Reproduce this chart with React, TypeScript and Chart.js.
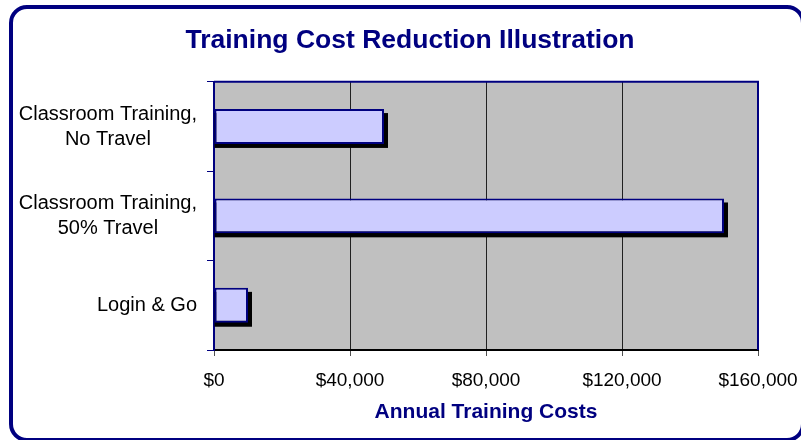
import React, { useEffect, useRef } from "react";
import { Chart, registerables } from "chart.js";

Chart.register(...registerables);

const titleText = "Training Cost Reduction Illustration";
const axisTitleText = "Annual Training Costs";
const categories: string[][] = [
  ["Classroom Training,", "No Travel"],
  ["Classroom Training,", "50% Travel"],
  ["Login & Go"],
];
const costs: number[] = [50000, 150000, 10000];
const xTickValues: number[] = [0, 40000, 80000, 120000, 160000];

const NAVY = "#000080";
const FONT = "'Liberation Sans', Arial, sans-serif";

const framePlugin = {
  id: "frame",
  beforeDraw(chart: any) {
    const { ctx, chartArea: a } = chart;
    ctx.save();
    ctx.fillStyle = "#c0c0c0";
    ctx.fillRect(a.left, a.top, a.right - a.left, a.bottom - a.top);
    ctx.restore();
  },
  beforeDatasetsDraw(chart: any) {
    const { ctx } = chart;
    const meta = chart.getDatasetMeta(0);
    ctx.save();
    ctx.fillStyle = "#000000";
    meta.data.forEach((el: any) => {
      const p = el.getProps(["x", "y", "base", "height"], true);
      const left = Math.min(p.base, p.x);
      const right = Math.max(p.base, p.x);
      ctx.fillRect(left, p.y - p.height / 2 + 4, right - left + 4, p.height);
    });
    ctx.restore();
  },
  afterDraw(chart: any) {
    const { ctx, chartArea: a } = chart;
    ctx.save();
    ctx.strokeStyle = NAVY;
    ctx.lineWidth = 2;
    ctx.beginPath();
    ctx.moveTo(a.left, a.top);
    ctx.lineTo(a.right, a.top);
    ctx.lineTo(a.right, a.bottom);
    ctx.stroke();
    // category labels: lines centred on each other, block right-aligned
    const yScale = chart.scales.y;
    ctx.font = `20px ${FONT}`;
    ctx.fillStyle = "#000000";
    ctx.textAlign = "center";
    ctx.textBaseline = "middle";
    const rightEdge = yScale.right - 17;
    const lh = 25;
    categories.forEach((lines, i) => {
      const cy = yScale.getPixelForTick(i);
      const w = Math.max(...lines.map((l) => ctx.measureText(l).width));
      const cx = rightEdge - w / 2;
      lines.forEach((l, j) => {
        ctx.fillText(l, cx, cy + (j - (lines.length - 1) / 2) * lh);
      });
    });
    ctx.restore();
  },
};

export default function App() {
  const ref = useRef<HTMLCanvasElement>(null);
  useEffect(() => {
    document.body.style.margin = "0";
    const chart = new Chart(ref.current!, {
      type: "bar",
      data: {
        labels: categories,
        datasets: [
          {
            data: costs,
            backgroundColor: "#ccccff",
            borderColor: NAVY,
            borderWidth: 2,
            borderSkipped: false,
            barPercentage: 0.39,
            categoryPercentage: 1,
          },
        ],
      },
      options: {
        indexAxis: "y",
        animation: false,
        responsive: false,
        devicePixelRatio: 1,
        layout: { padding: { left: 19, right: 0, top: 10, bottom: 0 } },
        plugins: {
          legend: { display: false },
          tooltip: { enabled: false },
          title: {
            display: true,
            text: titleText,
            color: NAVY,
            font: { family: FONT, size: 26.5, weight: "bold" },
            padding: { top: 15, bottom: 25 },
          },
        },
        scales: {
          x: {
            min: xTickValues[0],
            max: xTickValues[xTickValues.length - 1],
            afterBuildTicks: (s: any) => {
              s.ticks = xTickValues.map((v) => ({ value: v }));
            },
            grid: {
              color: "#202020",
              lineWidth: 1,
              drawTicks: true,
              tickLength: 6,
              tickColor: "#505050",
            },
            border: { color: "#000000", width: 2 },
            ticks: {
              color: "#000000",
              font: { family: FONT, size: 19 },
              padding: 13,
              callback: (v: any) => "$" + Number(v).toLocaleString("en-US"),
            },
            title: {
              display: true,
              text: axisTitleText,
              color: NAVY,
              font: { family: FONT, size: 21, weight: "bold" },
              padding: { top: 0, bottom: 15 },
            },
            afterFit: (s: any) => {
              s.height = 90;
              s.paddingRight = 43;
              s.paddingLeft = 0;
            },
          },
          y: {
            type: "category",
            grid: {
              display: true,
              drawOnChartArea: false,
              drawTicks: true,
              tickLength: 7,
              color: NAVY,
              offset: true,
            },
            border: { color: NAVY, width: 2 },
            ticks: {
              color: "rgba(0,0,0,0)",
              font: { family: FONT, size: 20 },
            },
            afterFit: (s: any) => {
              s.width = 195;
            },
          },
        },
      },
      plugins: [framePlugin],
    } as any);
    return () => chart.destroy();
  }, []);
  return (
    <div style={{ position: "relative", width: 801, height: 440, overflow: "hidden", background: "#fff" }}>
      <div
        style={{
          position: "absolute",
          left: 9,
          top: 5,
          width: 796,
          height: 437,
          boxSizing: "border-box",
          border: `4px solid ${NAVY}`,
          borderRadius: 18,
        }}
      />
      <canvas ref={ref} width={801} height={440} style={{ position: "absolute", left: 0, top: 0 }} />
    </div>
  );
}
